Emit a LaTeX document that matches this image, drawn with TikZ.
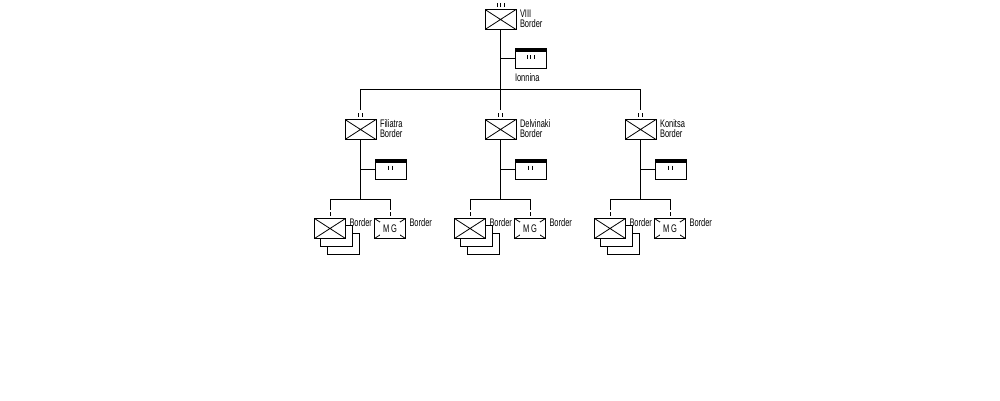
\documentclass[tikz,border=0pt]{standalone}
\usepackage{fontspec}
\newfontfamily\unitfont{Liberation Sans}[FakeStretch=0.68]
\usetikzlibrary{positioning}
\usetikzlibrary{backgrounds}
\tikzstyle{unit} = [draw, fill=white, minimum width=31pt, minimum height=20pt,
  inner sep=0pt, path picture={
    \draw [line width=0.8pt]
          (path picture bounding box.north west) -- (path picture bounding box.south east)
          (path picture bounding box.south west) -- (path picture bounding box.north east);}]
\tikzstyle{mgunit} = [draw, fill=white, minimum width=31pt, minimum height=20pt,
  inner sep=0pt, path picture={
    \draw [line width=0.8pt]
          (path picture bounding box.north west) -- (path picture bounding box.south east)
          (path picture bounding box.south west) -- (path picture bounding box.north east);
    \node [fill=white, minimum width=20pt, minimum height=14pt, inner sep=0pt,
      font=\unitfont\fontsize{11}{11}\selectfont]
      at (path picture bounding box.center) {M\,G};}]
\tikzstyle{hq} = [draw, fill=white, minimum width=31pt, minimum height=20pt,
  inner sep=0pt, path picture={
    \fill [black] (path picture bounding box.north west) rectangle
          ([yshift=-3.5pt]path picture bounding box.north east);}]
\tikzstyle{lbl} = [font=\unitfont\fontsize{11}{10.5}\selectfont, align=left,
  inner sep=0pt]
\tikzstyle{line} = [draw]
\newcommand{\echelon}[2]{\foreach \dx in {#2}
  {\draw ([shift={(\dx,-2)}]#1.north) -- ++(0,-4);}}
\newcommand{\hqmark}[2]{\foreach \dx in {#2}
  {\draw ([shift={(\dx,-3.5)}]#1.center) -- ++(0,4);}}
\newcommand{\battalion}[3]{
    % battalion and its staff
    \node (#1) [unit] at (#2,129.5) {};
    \echelon{#1}{-2,2}
    \node (#1-l) [lbl, below right=0pt and 3pt of #1.north east] {#3\\Border};
    \node (#1hq) [hq] at (#2+30,169) {};
    \hqmark{#1hq}{-2,2}
    \coordinate (#1bar) at (#2,199.5);
    \path [line] (#1) -- (#1bar);
    \path [line] (#1hq) -- (#1hq -| #1);
    % companies
    \node (#1co) [unit] at (#2-30.5,228.5) {};
    \node (#1mg) [mgunit] at (#2+29.5,228.5) {};
    \echelon{#1co}{0}
    \echelon{#1mg}{0}
    \path [line] ([yshift=8pt]#1co.north) |- (#1bar) -| ([yshift=8pt]#1mg.north);
    \node (#1co-l) [lbl, below right=0pt and 3pt of #1co.north east] {Border};
    \node (#1mg-l) [lbl, below right=0pt and 3pt of #1mg.north east] {Border};
    \begin{scope}[on background layer]
      \draw [fill=white] ([shift={(13,15)}]#1co.north west)
        rectangle ([shift={(13,15)}]#1co.south east);
      \draw [fill=white] ([shift={(6.5,7.5)}]#1co.north west)
        rectangle ([shift={(6.5,7.5)}]#1co.south east);
    \end{scope}
}

\begin{document}
\begin{tikzpicture}[x=1pt, y=-1pt, line width=1pt]
    \useasboundingbox (0,0) rectangle (1000,400);

    % Draw division and its staff
    \node (viii) [unit] at (500.5,19.5) {};
    \echelon{viii}{-3.5,0,3.5}
    \node (viii-l) [lbl, below right=0pt and 3pt of viii.north east] {VIII\\Border};
    \node (ionn) [hq] at (530.5,58.5) {};
    \hqmark{ionn}{-3.5,0,3.5}
    \node (ionn-l) [lbl, below right=4pt and 0pt of ionn.south west] {Ionnina};
    \coordinate (bar) at (500.5,89.5);
    \path [line] (viii) -- (bar);
    \path [line] (ionn) -- (ionn -| viii);

    % Draw battalions
    \battalion{fil}{360.5}{Filiatra}
    \battalion{del}{500.5}{Delvinaki}
    \battalion{kon}{640.5}{Konitsa}
    \path [line] ([yshift=9pt]fil.north) |- (bar) -| ([yshift=9pt]kon.north);
    \path [line] ([yshift=9pt]del.north) -- (bar);
\end{tikzpicture}
\end{document}
